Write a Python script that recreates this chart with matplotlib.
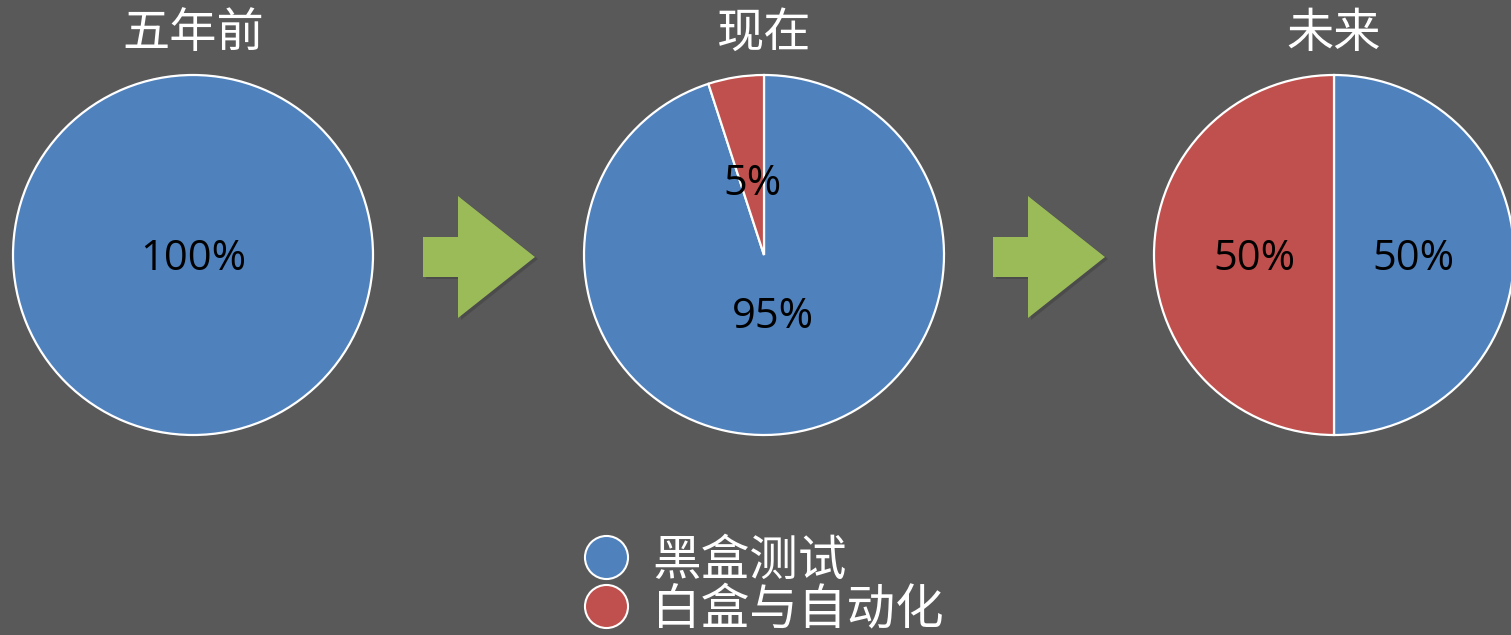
import numpy as np
import matplotlib
matplotlib.use("Agg")
import matplotlib.pyplot as plt
from matplotlib.patches import FancyArrow
from matplotlib.lines import Line2D

plt.rcParams['font.family'] = ['Noto Sans CJK SC', 'DejaVu Sans']

# data
titles = ["五年前", "现在", "未来"]
series_names = ["黑盒测试", "白盒与自动化"]
black_box = [100, 95, 50]
white_box = [0, 5, 50]

BG = "#595959"
BLUE = "#4F81BD"
RED = "#C0504D"
GREEN = "#9BBB59"

W, H = 1511, 635
fig = plt.figure(figsize=(W / 100, H / 100), dpi=100, facecolor=BG)

# overlay axes in pixel units for titles and arrows
over = fig.add_axes([0, 0, 1, 1])
over.set_xlim(0, W)
over.set_ylim(H, 0)
over.axis("off")
over.set_zorder(0)

centers_x = [193, 764, 1334]
center_y = 255
radius_px = 180
# label distance (fraction of radius) for each wedge: [blue, red]
label_dist = [[0.0, 0.0], [0.33, 0.42], [0.44, 0.44]]

for i in range(3):
    cx = centers_x[i]
    size = 2 * radius_px + 4
    ax = fig.add_axes([(cx - size / 2) / W, 1 - (center_y + size / 2) / H, size / W, size / H])
    ax.set_zorder(1)
    vals = [black_box[i], white_box[i]]
    cols = [BLUE, RED]
    keep = [k for k in range(2) if vals[k] > 0]
    wedges, _ = ax.pie([vals[k] for k in keep], colors=[cols[k] for k in keep],
                       startangle=90, counterclock=False,
                       wedgeprops=dict(edgecolor="white", linewidth=1.6))
    lim = size / (2 * radius_px)
    ax.set_xlim(-lim, lim)
    ax.set_ylim(-lim, lim)
    ax.set_aspect("equal")
    ax.axis("off")
    for w, k in zip(wedges, keep):
        mid = np.deg2rad((w.theta1 + w.theta2) / 2)
        d = label_dist[i][k]
        ax.text(d * np.cos(mid), d * np.sin(mid) - 0.02, f"{vals[k]}%",
                ha="center", va="center", fontsize=30, color="black",
                family=["Open Sans", "DejaVu Sans"])
    over.text(cx, 34, titles[i], ha="center", va="center", fontsize=34, color="white")

# arrows between pies
for x0 in [423, 993]:
    over.add_patch(FancyArrow(x0 + 3, center_y + 4, 112, 0, width=40, head_width=122,
                              head_length=77, length_includes_head=True,
                              color="black", alpha=0.15, lw=0))
    over.add_patch(FancyArrow(x0, center_y + 2, 112, 0, width=40, head_width=122,
                              head_length=77, length_includes_head=True,
                              color=GREEN, lw=0))

handles = [Line2D([], [], marker="o", linestyle="none", markersize=31,
                  markerfacecolor=c, markeredgecolor="white", markeredgewidth=1.5)
           for c in [BLUE, RED]]
fig.legend(handles, series_names, loc="center left",
           bbox_to_anchor=(584 / W, 1 - 585 / H), frameon=False,
           fontsize=35, labelcolor="white", handlelength=0.9,
           handletextpad=0.5, labelspacing=-0.02, borderpad=0, borderaxespad=0)

fig.savefig("out.png", dpi=100, facecolor=BG)
